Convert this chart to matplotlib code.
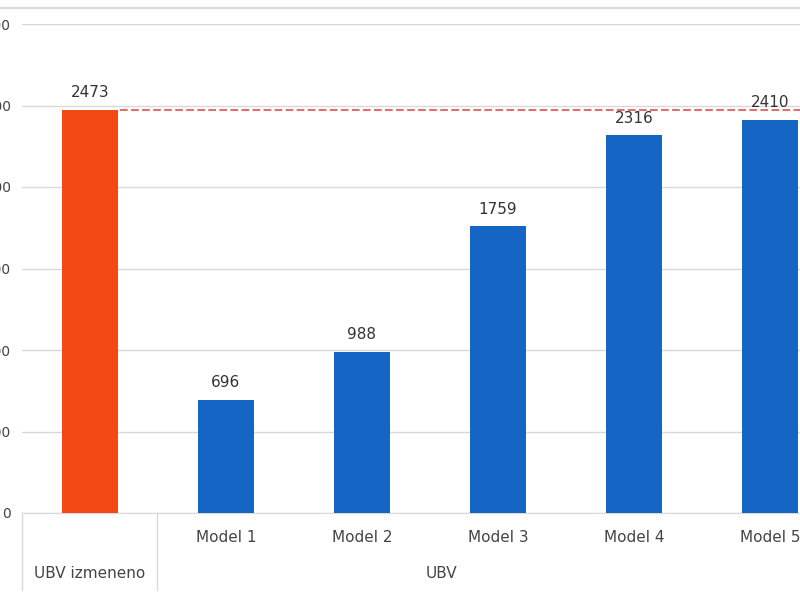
import matplotlib.pyplot as plt

categories = ['UBV izmeneno', 'Model 1', 'Model 2', 'Model 3', 'Model 4', 'Model 5']
values = [2473, 696, 988, 1759, 2316, 2410]
colors = ['#F24A12', '#1565C4', '#1565C4', '#1565C4', '#1565C4', '#1565C4']
group_label = 'UBV'

W, H = 800, 600
fig = plt.figure(figsize=(8, 6), dpi=100)
# plot area: x 22..838 px, y 24..513 px (right part cropped like the reference)
ax = fig.add_axes([22 / W, (H - 513) / H, 816 / W, (513 - 24) / H])
x = range(len(categories))
ax.bar(x, values, width=0.41, color=colors, zorder=3)
for i, v in enumerate(values):
    ax.text(i, v + 60, str(v), ha='center', va='bottom', fontsize=11, color='#333333')
ax.axhline(values[0], xmin=0.12, color='#E07070', ls='--', lw=1.5, zorder=4)

ax.set_xlim(-0.5, len(categories) - 0.5)
ax.set_ylim(0, 3000)
ax.set_yticks(range(0, 3001, 500))
ax.yaxis.grid(True, color='#D9D9D9', lw=1, zorder=0)
ax.tick_params(axis='y', length=0, labelsize=10, labelcolor='#444444', pad=8)
ax.set_xticks([])
for s in ['top', 'right', 'left']:
    ax.spines[s].set_visible(False)
ax.spines['bottom'].set_color('#D9D9D9')

# multi-level category axis
for i, c in enumerate(categories[1:], start=1):
    fig.text((22 + 136 * i + 68) / W, (H - 537) / H, c, ha='center', va='center',
             fontsize=11, color='#444444')
fig.text((22 + 68) / W, (H - 573) / H, categories[0], ha='center', va='center',
         fontsize=11, color='#444444')
fig.text((157 + 838) / 2 / W * 0.88 + 0.005, (H - 573) / H, group_label, ha='center', va='center',
         fontsize=11, color='#444444')
for px in [22, 157]:
    fig.add_artist(plt.Line2D([px / W, px / W], [(H - 590) / H, (H - 513) / H],
                              color='#D9D9D9', lw=1))
fig.add_artist(plt.Line2D([0, 1], [(H - 8) / H, (H - 8) / H], color='#D9D9D9', lw=1.5))

fig.savefig('out.png')
